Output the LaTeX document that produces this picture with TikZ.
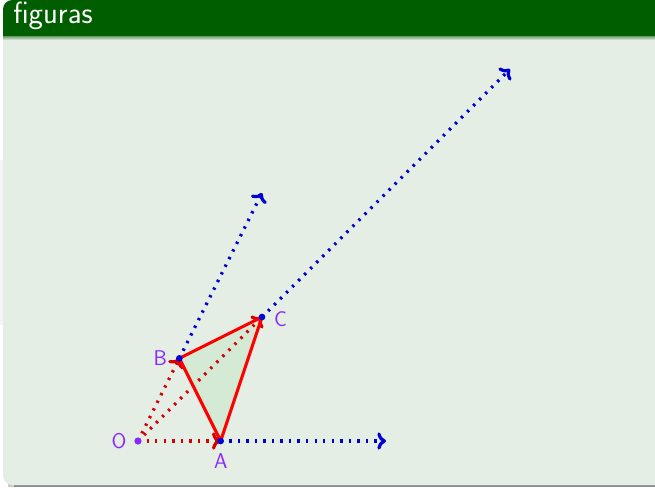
\documentclass[tikz,border=0pt]{standalone}
\usetikzlibrary{arrows.meta}
\definecolor{titlegreen}{RGB}{0,94,0}
\definecolor{bodygreen}{RGB}{228,238,228}
\definecolor{trifill}{RGB}{212,234,212}
\definecolor{labviolet}{RGB}{140,40,255}
\definecolor{vecblue}{RGB}{0,0,210}
\definecolor{vecred}{RGB}{215,0,0}
\tikzset{
  tipstyle/.style={-{To[length=6.5pt,width=13pt]}},
  reddot/.style={tipstyle, draw=vecred, line width=2.4pt, dash pattern=on 1.8pt off 4.6pt},
  bluedot/.style={tipstyle, draw=vecblue, line width=2.4pt, dash pattern=on 1.8pt off 4.6pt},
  redline/.style={draw=red, line width=2.3pt, line join=round},
  lab/.style={text=labviolet, font=\sffamily\fontsize{16}{19}\selectfont, inner sep=0pt},
  titletext/.style={text=white, font=\sffamily\fontsize{23}{27}\selectfont, inner sep=0pt, anchor=base west}
}
\begin{document}
\begin{tikzpicture}[x=0.75pt,y=-0.75pt]
\useasboundingbox (0,0) rectangle (655,487);
\fill[white] (0,0) rectangle (655,487);
% shadows
\fill[black!4] (0,160) rectangle (3,325);
\fill[black!45] (14,483) rectangle (655,487);
\fill[black!20] (8,483) rectangle (14,487);
% block
\begin{scope}
  \clip[rounded corners=7] (3,0) rectangle (690,485);
  \fill[bodygreen] (0,0) rectangle (690,487);
  \fill[titlegreen] (0,0) rectangle (690,36);
  \shade[top color=titlegreen!55!bodygreen, bottom color=bodygreen] (0,36) rectangle (690,40);
\end{scope}
\node[titletext] (title) at (13,23.5) {figuras};
% diagram
\begin{scope}[shift={(138,441)}, x=62pt, y=62pt]
  \coordinate (O) at (0,0);
  \coordinate (A) at (1,0);
  \coordinate (B) at (0.5,1);
  \coordinate (C) at (1.5,1.5);
  \coordinate (A3) at (3,0);
  \coordinate (B3) at (1.5,3);
  \coordinate (C3) at (4.5,4.5);
  \fill[trifill] (A) -- (B) -- (C) -- cycle;
  \draw[bluedot] (A) -- (A3);
  \draw[bluedot] (B) -- (B3);
  \draw[bluedot] (C) -- (C3);
  \draw[reddot] (O) -- (A);
  \draw[reddot] (O) -- (B);
  \draw[reddot] (O) -- (C);
  \draw[redline] (A) -- (B) -- (C) -- cycle;
  \fill[labviolet] (O) circle[radius=2.7pt];
  \fill[vecblue] (A) circle[radius=2.5pt];
  \fill[vecblue] (B) circle[radius=2.5pt];
  \fill[vecblue] (C) circle[radius=2.5pt];
  \node[lab] (lO) at (-0.23,0) {O};
  \node[lab] (lA) at (1,-0.245) {A};
  \node[lab] (lB) at (0.27,1) {B};
  \node[lab] (lC) at (1.725,1.47) {C};
\end{scope}
\end{tikzpicture}
\end{document}
